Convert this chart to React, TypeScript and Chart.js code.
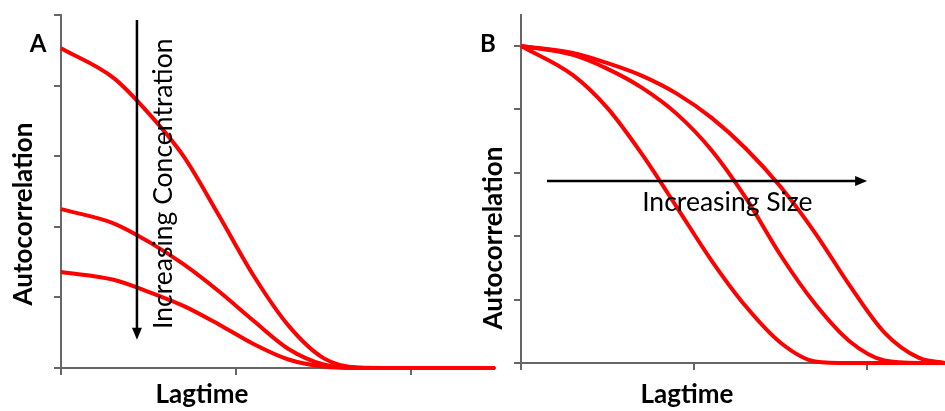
import React, { useEffect, useRef } from "react";
import { Chart, registerables } from "chart.js";

Chart.register(...registerables);

// ---------- Panel A data (increasing concentration) ----------
const lagA = [0, 0.3, 0.5, 0.7, 0.9, 1.1, 1.3, 1.5, 1.7, 1.9, 2.48];
const corrA_high = [4.53, 4.11, 3.61, 3.0, 2.17, 1.31, 0.6, 0.14, 0.006, 0, 0];
const corrA_mid = [2.25, 2.05, 1.79, 1.47, 1.09, 0.67, 0.27, 0.05, 0, 0, 0];
const corrA_low = [1.36, 1.25, 1.08, 0.88, 0.62, 0.34, 0.12, 0.02, 0, 0, 0];
const xTicksA = [0, 1, 2];
const yTicksA = [0, 1, 2, 3, 4, 5];

// ---------- Panel B data (increasing size) ----------
const lagB = [0, 0.3, 0.5, 0.7, 0.9, 1.1, 1.3, 1.5, 1.7, 1.9, 2.1, 2.3, 2.45];
const corrB_small = [5, 4.54, 4.02, 3.29, 2.46, 1.62, 0.89, 0.32, 0.025, 0, 0, 0, 0];
const corrB_medium = [5, 4.86, 4.64, 4.34, 3.93, 3.36, 2.6, 1.7, 0.93, 0.34, 0.04, 0, 0];
const corrB_large = [5, 4.89, 4.73, 4.53, 4.25, 3.87, 3.38, 2.78, 2.05, 1.22, 0.48, 0.08, 0];
const xTicksB = [0, 1, 2];
const yTicksB = [0, 1, 2, 3, 4, 5];

const RED = "#ff0000";
const AXIS = "#666666";
const FONT = "Lato, 'Open Sans', sans-serif";

const toPts = (xs: number[], ys: number[]) => xs.map((x, i) => ({ x, y: ys[i] }));

const lineDs = (xs: number[], ys: number[]) => ({
  data: toPts(xs, ys),
  borderColor: RED,
  borderWidth: 4,
  pointRadius: 0,
  fill: false,
  cubicInterpolationMode: "monotone" as const,
  clip: false as const,
});

type Panel = {
  letter: string;
  letterPos: [number, number];
  yTitlePos: [number, number];
  xTitlePos: [number, number];
  arrow: { x1: number; y1: number; x2: number; y2: number };
  note: { text: string; x: number; y: number; rotate: boolean; align: CanvasTextAlign };
};

const notesPlugin = (p: Panel) => ({
  id: "notes",
  afterDraw(chart: any) {
    const { ctx } = chart;
    const xs = chart.scales.x;
    const ys = chart.scales.y;
    ctx.save();
    ctx.fillStyle = "#000";
    ctx.textBaseline = "middle";
    // panel letter
    ctx.font = `bold 24px ${FONT}`;
    ctx.textAlign = "center";
    ctx.fillText(p.letter, p.letterPos[0], p.letterPos[1]);
    // y title
    ctx.font = `bold 26px ${FONT}`;
    ctx.save();
    ctx.translate(p.yTitlePos[0], p.yTitlePos[1]);
    ctx.rotate(-Math.PI / 2);
    ctx.fillText("Autocorrelation", 0, 0);
    ctx.restore();
    // x title
    ctx.fillText("Lagtime", p.xTitlePos[0], p.xTitlePos[1]);
    // arrow
    const ax1 = xs.getPixelForValue(p.arrow.x1);
    const ay1 = ys.getPixelForValue(p.arrow.y1);
    const ax2 = xs.getPixelForValue(p.arrow.x2);
    const ay2 = ys.getPixelForValue(p.arrow.y2);
    const ang = Math.atan2(ay2 - ay1, ax2 - ax1);
    const head = 12;
    const half = 5;
    ctx.strokeStyle = "#000";
    ctx.lineWidth = 2.5;
    ctx.beginPath();
    ctx.moveTo(ax1, ay1);
    ctx.lineTo(ax2 - Math.cos(ang) * head * 0.8, ay2 - Math.sin(ang) * head * 0.8);
    ctx.stroke();
    ctx.beginPath();
    ctx.moveTo(ax2, ay2);
    ctx.lineTo(ax2 - Math.cos(ang) * head - Math.sin(ang) * half, ay2 - Math.sin(ang) * head + Math.cos(ang) * half);
    ctx.lineTo(ax2 - Math.cos(ang) * head + Math.sin(ang) * half, ay2 - Math.sin(ang) * head - Math.cos(ang) * half);
    ctx.closePath();
    ctx.fill();
    // in-plot note
    ctx.font = `26.5px ${FONT}`;
    ctx.textAlign = p.note.align;
    const nx = xs.getPixelForValue(p.note.x);
    const ny = ys.getPixelForValue(p.note.y);
    if (p.note.rotate) {
      ctx.translate(nx, ny);
      ctx.rotate(-Math.PI / 2);
      ctx.fillText(p.note.text, 0, 0);
    } else {
      ctx.fillText(p.note.text, nx, ny);
    }
    ctx.restore();
  },
});

const axis = (max: number, ticks: number[], size: number, horizontal: boolean) => ({
  type: "linear" as const,
  min: 0,
  max,
  afterBuildTicks: (s: any) => {
    s.ticks = ticks.map((v) => ({ value: v }));
  },
  afterFit: (s: any) => {
    if (horizontal) s.height = size;
    else s.width = size;
  },
  ticks: { display: false },
  grid: { drawOnChartArea: false, drawTicks: true, tickLength: 7, color: AXIS, lineWidth: 2 },
  border: { display: true, color: AXIS, width: 2 },
});

function PanelChart(props: {
  left: number;
  width: number;
  datasets: any[];
  xMax: number;
  yMax: number;
  xTicks: number[];
  yTicks: number[];
  yAxisWidth: number;
  xAxisHeight: number;
  padRight: number;
  panel: Panel;
}) {
  const ref = useRef<HTMLCanvasElement | null>(null);
  useEffect(() => {
    if (!ref.current) return;
    const chart = new Chart(ref.current, {
      type: "line",
      data: { datasets: props.datasets },
      options: {
        animation: false,
        responsive: false,
        layout: { padding: { left: 0, right: props.padRight, top: 15, bottom: 0 } },
        plugins: { legend: { display: false }, tooltip: { enabled: false } },
        scales: {
          x: axis(props.xMax, props.xTicks, props.xAxisHeight, true),
          y: axis(props.yMax, props.yTicks, props.yAxisWidth, false),
        },
      },
      plugins: [notesPlugin(props.panel)],
    });
    return () => chart.destroy();
  }, []);
  return (
    <canvas
      ref={ref}
      width={props.width}
      height={411}
      style={{ position: "absolute", left: props.left, top: 0, width: props.width, height: 411 }}
    />
  );
}

export default function App() {
  const panelA: Panel = {
    letter: "A",
    letterPos: [38, 44],
    yTitlePos: [24, 214],
    xTitlePos: [202, 395],
    arrow: { x1: 0.434, y1: 4.93, x2: 0.434, y2: 0.4 },
    note: { text: "Increasing Concentration", x: 0.583, y: 2.61, rotate: true, align: "center" },
  };
  const panelB: Panel = {
    letter: "B",
    letterPos: [18, 44],
    yTitlePos: [24, 238],
    xTitlePos: [217, 395],
    arrow: { x1: 0.15, y1: 2.87, x2: 2.0, y2: 2.87 },
    note: { text: "Increasing Size", x: 0.7, y: 2.54, rotate: false, align: "left" },
  };
  return (
    <div style={{ position: "absolute", left: 0, top: 0, width: 945, height: 411, background: "#fff", overflow: "hidden" }}>
      <PanelChart
        left={0}
        width={500}
        datasets={[lineDs(lagA, corrA_high), lineDs(lagA, corrA_mid), lineDs(lagA, corrA_low)]}
        xMax={2.48}
        yMax={5}
        xTicks={xTicksA}
        yTicks={yTicksA}
        yAxisWidth={61}
        xAxisHeight={43}
        padRight={5}
        panel={panelA}
      />
      <PanelChart
        left={470}
        width={475}
        datasets={[lineDs(lagB, corrB_small), lineDs(lagB, corrB_medium), lineDs(lagB, corrB_large)]}
        xMax={2.45}
        yMax={5.49}
        xTicks={xTicksB}
        yTicks={yTicksB}
        yAxisWidth={51}
        xAxisHeight={48}
        padRight={0}
        panel={panelB}
      />
    </div>
  );
}
